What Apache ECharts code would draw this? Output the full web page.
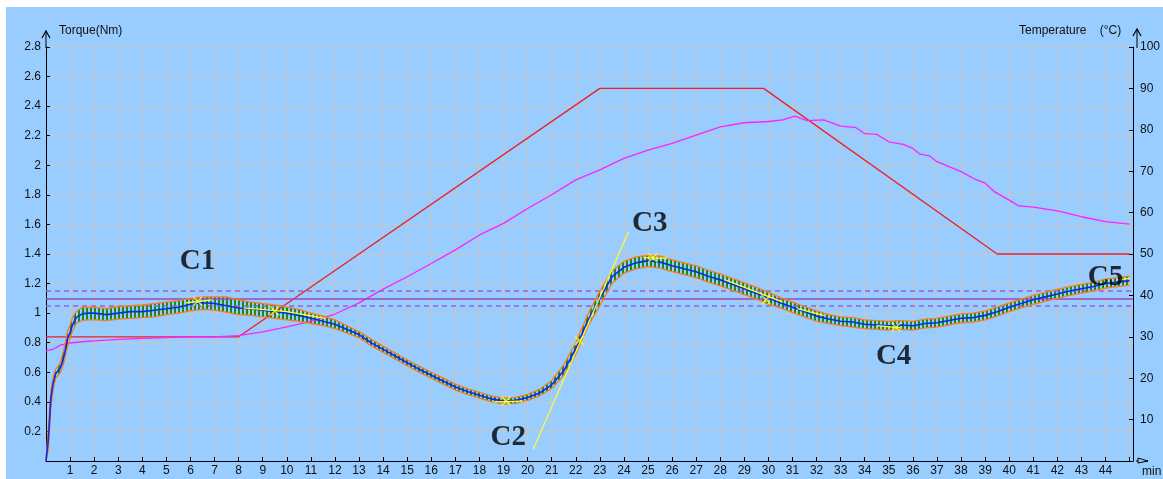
<!DOCTYPE html>
<html>
<head>
<meta charset="utf-8">
<script src="https://cdn.jsdelivr.net/npm/echarts@6/dist/echarts.min.js"></script>
<style>
html,body{margin:0;padding:0;background:#fff;}
#wrap{position:relative;width:1163px;height:479px;overflow:hidden;background:#fff;}
#main{position:absolute;left:6px;top:7px;width:1157px;height:472px;}
</style>
</head>
<body>
<div id="wrap"><div id="main"></div></div>
<script>
// torque trace (min / Nm)
var timeMin=[0,0.1,0.2,0.3,0.4,0.5,0.6,0.75,0.9,1,1.1,1.25,1.5,1.75,
	2,2.5,3,3.5,4,4.5,5,5.5,6,6.5,7,7.5,8,8.5,9,9.5,10,10.5,11,11.5,
	12,12.5,13,13.5,14,14.5,15,15.5,16,16.5,17,17.5,18,18.5,19,19.5,20,20.5,21,21.5,
	22,22.5,23,23.5,24,24.5,25,25.5,26,26.5,27,27.5,28,28.5,29,29.5,30,30.5,31,31.5,
	32,32.5,33,33.5,34,34.5,35,35.5,36,36.5,37,37.5,38,38.5,39,39.5,40,40.5,41,41.5,
	42,42.5,43,43.5,44,44.5,45];
var torqueMid=[0,0.15,0.42,0.53,0.59,0.61,0.63,0.71,0.83,0.87,0.92,0.97,0.995,1.0,
	1.0,0.99,1.0,1.01,1.01,1.02,1.03,1.04,1.06,1.07,1.065,1.05,1.035,1.03,1.02,1.01,1.0,0.985,0.965,0.945,
	0.925,0.89,0.855,0.8,0.755,0.71,0.665,0.62,0.58,0.54,0.5,0.47,0.445,0.42,0.405,0.41,0.43,0.46,0.515,0.61,
	0.76,0.95,1.1,1.245,1.31,1.34,1.355,1.345,1.32,1.3,1.28,1.25,1.225,1.195,1.165,1.135,1.1,1.07,1.04,1.01,
	0.98,0.96,0.945,0.94,0.925,0.92,0.915,0.92,0.915,0.93,0.935,0.95,0.965,0.97,0.985,1.01,1.04,1.065,1.09,1.11,
	1.13,1.15,1.165,1.18,1.2,1.21,1.22];
var torqueHi=[0.02,0.22,0.47,0.57,0.62,0.64,0.67,0.76,0.88,0.92,0.97,1.01,1.04,1.04,
	1.04,1.03,1.045,1.05,1.055,1.065,1.075,1.085,1.1,1.11,1.11,1.11,1.09,1.075,1.065,1.055,1.04,1.025,1.0,0.98,
	0.955,0.915,0.875,0.825,0.775,0.73,0.685,0.64,0.6,0.56,0.52,0.49,0.465,0.44,0.425,0.43,0.45,0.485,0.545,0.65,
	0.8,0.99,1.15,1.285,1.35,1.38,1.39,1.385,1.36,1.34,1.32,1.29,1.265,1.235,1.205,1.175,1.14,1.105,1.075,1.045,
	1.015,0.99,0.975,0.97,0.955,0.95,0.945,0.95,0.945,0.96,0.965,0.98,0.995,1.0,1.015,1.04,1.07,1.095,1.12,1.14,
	1.16,1.18,1.195,1.21,1.23,1.24,1.25];
var torqueLo=[0,0.08,0.36,0.49,0.56,0.58,0.6,0.67,0.78,0.83,0.88,0.93,0.95,0.955,
	0.955,0.95,0.96,0.965,0.97,0.975,0.99,1.0,1.015,1.025,1.02,1.005,0.99,0.985,0.975,0.965,0.955,0.945,0.93,0.915,
	0.895,0.865,0.835,0.78,0.735,0.69,0.645,0.6,0.56,0.52,0.48,0.45,0.425,0.4,0.385,0.39,0.41,0.44,0.49,0.58,
	0.72,0.91,1.05,1.2,1.27,1.3,1.315,1.305,1.28,1.26,1.24,1.21,1.185,1.155,1.125,1.095,1.06,1.035,1.005,0.975,
	0.945,0.93,0.915,0.905,0.895,0.89,0.885,0.89,0.885,0.9,0.905,0.92,0.935,0.94,0.955,0.98,1.01,1.035,1.06,1.08,
	1.1,1.12,1.135,1.15,1.17,1.18,1.19];

// temperature (min / °C)
var tempTime=[0,0.3,0.6,1,1.5,2,3,4,5,6,7,8,9,10,11,12,13,14,15,16,17,18,19,20,21,22,23,24,25,26,27,28,29,30,
	30.6,31.1,31.6,32.3,33,33.6,34,34.5,35,35.6,36,36.3,36.7,37,37.5,38,38.6,39,39.4,40,40.4,41,42,43,44,45];
var tempActual=[26.6,27,28,28.5,28.8,29,29.4,29.6,29.8,30,30,30.3,31.2,32.4,33.7,35.5,38.2,41.5,44.5,47.7,51,54.6,57.4,61,64.3,67.9,70.3,73.1,75.1,76.7,78.7,80.7,81.7,82,
	82.4,83.3,82.2,82.4,80.9,80.6,79.1,78.9,77.1,76.5,75.5,74.1,73.7,72.3,71.1,69.9,68,67.1,65,63,61.6,61.3,60.4,59,57.8,57.2];
var setTime=[0,8,23,29.8,39.5,45];
var setTemp=[30,30,90,90,50,50];

// limits
var limitMid=1.1, limitHi=1.15, limitLo=1.05;

// yellow fit segments, crosses, tangent
var fitSegments=[
	[[5.8,1.07],[6.9,1.09]],
	[[8.2,1.035],[10,1.01],[11.6,0.965]],
	[[18.6,0.4],[19.8,0.405]],
	[[24.8,1.375],[25.8,1.37]],
	[[28.2,1.225],[30.6,1.075]],
	[[31.2,1.03],[32.3,0.985]],
	[[34.5,0.915],[35.5,0.9]],
	[[44.5,1.225],[45,1.235]]
];
var fitMarks=[[6.3,1.08],[9.5,1.015],[19.1,0.405],[22.15,0.815],[25.2,1.375],[29.9,1.09],[35.3,0.905]];
var tangentLine=[[20.23,0.08],[24.19,1.55]];

var noteNames=['C1','C2','C3','C4','C5'];
var noteTime=[6.29,19.2,25.07,35.2,44.0];
var noteTorque=[1.346,0.162,1.603,0.71,1.244];

function pairs(xs,ys){
	return xs.map(function(x,i){return [x,ys[i]];});
}

var fitData=[];
fitSegments.forEach(function(seg){
	seg.forEach(function(p){fitData.push(p);});
	fitData.push([seg[seg.length-1][0],'-']);
});
var notes=noteNames.map(function(n,i){return {name:n,value:[noteTime[i],noteTorque[i]]};});

var stripe=document.createElement('canvas');
stripe.width=4;stripe.height=4;
var sctx=stripe.getContext('2d');
sctx.fillStyle='#178c17';
sctx.fillRect(0,0,2,4);

// green noise band between lo and hi, drawn once as one polygon
function renderBand(params,api){
	if(params.dataIndex!==0) return null;
	var pts=[],i;
	for(i=0;i<timeMin.length;i++) pts.push(api.coord([timeMin[i],torqueHi[i]]));
	for(i=timeMin.length-1;i>=0;i--) pts.push(api.coord([timeMin[i],torqueLo[i]]));
	return {type:'polygon',shape:{points:pts},style:{fill:{image:stripe,repeat:'repeat'},stroke:null}};
}

var font='Liberation Sans, Arial, sans-serif';
var lab={fontFamily:font,fontSize:12,color:'#111'};

var chart=echarts.init(document.getElementById('main'));
chart.setOption({
	animation:false,
	backgroundColor:'#99ccff',
	grid:{left:40,right:26,top:40,bottom:18},
	xAxis:{
		type:'value',min:0,max:45.14,interval:1,
		axisLine:{lineStyle:{color:'#000',width:1}},
		axisTick:{inside:true,length:4,lineStyle:{color:'#000'}},
		axisLabel:Object.assign({margin:4,formatter:function(v){
			return (v>=1&&v<=44&&Math.abs(v-Math.round(v))<1e-6)?String(Math.round(v)):'';
		}},lab),
		splitLine:{show:true,lineStyle:{color:'#c6c6c6',width:1}}
	},
	yAxis:[{
		type:'value',min:0,max:2.8,interval:0.2,
		axisLine:{show:true,lineStyle:{color:'#000',width:1}},
		axisTick:{show:true,inside:true,length:4,lineStyle:{color:'#000'}},
		axisLabel:Object.assign({margin:5,formatter:function(v){return v===0?'':String(v);}},lab),
		splitLine:{show:true,lineStyle:{color:'#c6c6c6',width:1}}
	},{
		type:'value',min:0,max:100,interval:10,position:'right',
		axisLine:{show:true,lineStyle:{color:'#000',width:1}},
		axisTick:{show:true,inside:true,length:4,lineStyle:{color:'#000'}},
		axisLabel:Object.assign({margin:7,formatter:function(v){return v===0?'':String(v);}},lab),
		splitLine:{show:false}
	}],
	graphic:[
		{type:'polyline',shape:{points:[[40,41],[40,24]]},style:{stroke:'#000',lineWidth:1,fill:null}},
		{type:'polyline',shape:{points:[[36,31],[40,24],[44,31]]},style:{stroke:'#000',lineWidth:1.2,fill:null}},
		{type:'polyline',shape:{points:[[1131,41],[1131,22]]},style:{stroke:'#000',lineWidth:1,fill:null}},
		{type:'polyline',shape:{points:[[1127,29],[1131,22],[1135,29]]},style:{stroke:'#000',lineWidth:1.2,fill:null}},
		{type:'polyline',shape:{points:[[1130,454],[1142,454]]},style:{stroke:'#000',lineWidth:1,fill:null}},
		{type:'polygon',shape:{points:[[1132,451],[1142,454],[1132,456]]},style:{stroke:'#000',lineWidth:1,fill:'#99ccff'}},
		{type:'text',x:53,y:18,style:{text:'Torque(Nm)',font:'12px '+font,fill:'#111'}},
		{type:'text',x:1013,y:18,style:{text:'Temperature    (°C)',font:'12px '+font,fill:'#111'}},
		{type:'text',x:1136,y:459,style:{text:'min',font:'12px '+font,fill:'#111'}}
	],
	series:[
		{type:'custom',data:pairs(timeMin,torqueMid),renderItem:renderBand,z:2,silent:true},
		{type:'line',data:[],symbol:'none',z:3,
			markLine:{symbol:'none',silent:true,label:{show:false},
				data:[
					{yAxis:limitMid,lineStyle:{color:'#9a48c4',width:1.6,type:'solid'}},
					{yAxis:limitHi,lineStyle:{color:'#9a60cc',width:1.6,type:[5,4]}},
					{yAxis:limitLo,lineStyle:{color:'#9a60cc',width:1.6,type:[5,4]}}
				]}},
		{type:'line',yAxisIndex:1,data:pairs(setTime,setTemp),symbol:'none',
			lineStyle:{color:'#f02020',width:1.3},z:4},
		{type:'line',yAxisIndex:1,data:pairs(tempTime,tempActual),symbol:'none',
			lineStyle:{color:'#ff22ff',width:1.3},z:4},
		{type:'line',data:pairs(timeMin,torqueHi),symbol:'none',lineStyle:{color:'#ff7a1a',width:1.3},z:5},
		{type:'line',data:pairs(timeMin,torqueLo),symbol:'none',lineStyle:{color:'#ff7a1a',width:1.3},z:5},
		{type:'line',data:pairs(timeMin,torqueMid),symbol:'none',lineStyle:{color:'#0a2cf0',width:1.6},z:6},
		{type:'line',data:fitData,symbol:'none',connectNulls:false,lineStyle:{color:'#ffff20',width:1.3},z:7},
		{type:'line',data:tangentLine,symbol:'none',lineStyle:{color:'#ffff30',width:1.2},z:7},
		{type:'scatter',data:fitMarks,symbol:'path://M0,0L10,10M10,0L0,10',symbolSize:9,
			itemStyle:{color:'transparent',borderColor:'#ffff20',borderWidth:1.5},z:8},
		{type:'scatter',data:notes,symbolSize:1,itemStyle:{color:'transparent'},z:9,
			label:{show:true,position:'inside',formatter:'{b}',color:'#000',
				fontFamily:'Liberation Serif, Times New Roman, serif',fontWeight:'bold',fontSize:29}}
	]
});
</script>
</body>
</html>
